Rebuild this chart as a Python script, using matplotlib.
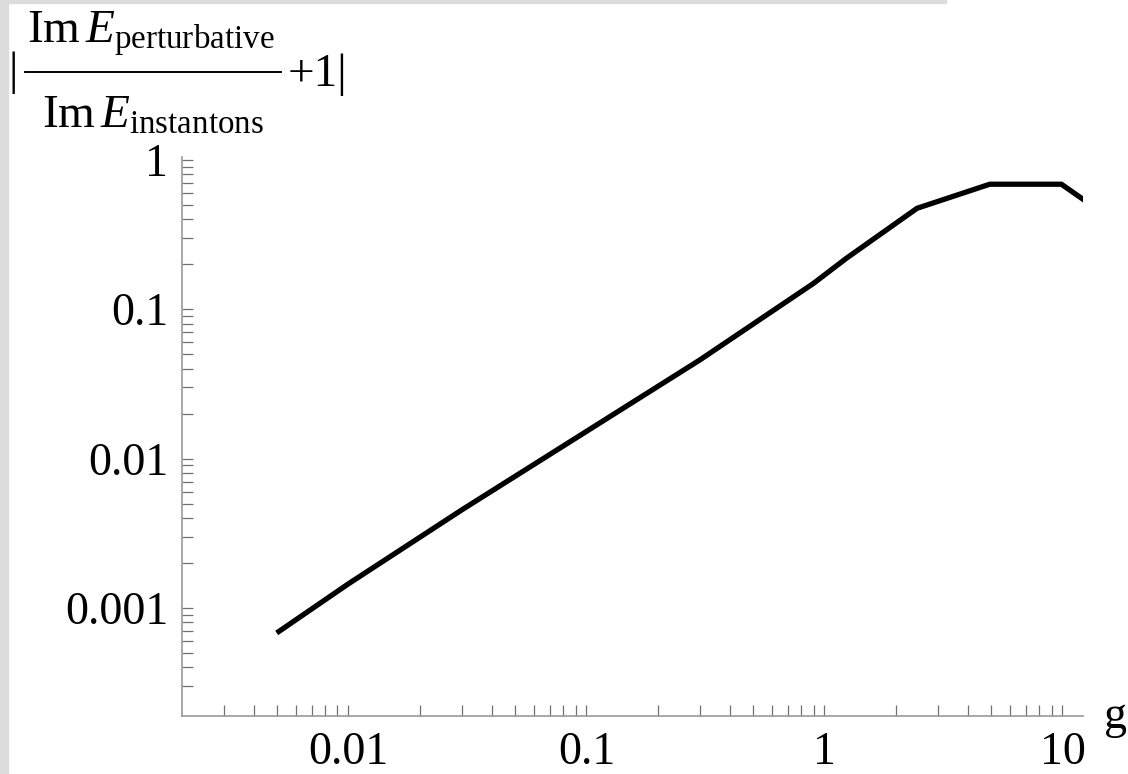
import numpy as np
import matplotlib
matplotlib.use("Agg")
import matplotlib.pyplot as plt
from matplotlib.patches import Rectangle
from matplotlib.lines import Line2D
from matplotlib.ticker import FixedLocator, NullFormatter

plt.rcParams['font.family'] = ['Liberation Serif', 'DejaVu Serif']
plt.rcParams['mathtext.fontset'] = 'custom'
plt.rcParams['mathtext.rm'] = 'Liberation Serif'
plt.rcParams['mathtext.it'] = 'Liberation Serif:italic'

# data
g = [0.005, 0.01, 0.03, 0.1, 0.3, 0.9, 1.24, 2.45, 4.95, 9.9, 12.4]
ratio = [6.8e-4, 1.45e-3, 4.54e-3, 1.52e-2, 4.58e-2, 0.149, 0.22, 0.474, 0.687, 0.687, 0.535]

xmajor = [0.01, 0.1, 1, 10]
xlabels = ['0.01', '0.1', '1', '10']
ymajor = [0.001, 0.01, 0.1, 1]
ylabels = ['0.001', '0.01', '0.1', '1']

W, H = 1128, 774
fig = plt.figure(figsize=(W / 100, H / 100), dpi=100)
ax = fig.add_axes([182 / W, 1 - 716 / H, (1083 - 182) / W, (716 - 156.7) / H])

ax.plot(g, ratio, color='black', lw=3.8, solid_capstyle='butt', solid_joinstyle='miter')

ax.set_xscale('log')
ax.set_yscale('log')
ax.set_xlim(0.002, 12.2)
ax.set_ylim(1.89e-4, 1.05)

# minor ticks 2..9 per decade, like the original
xminor = [m * 10.0 ** e for e in range(-3, 1) for m in range(2, 10)]
xminor = [v for v in xminor if 0.0025 < v < 12]
yminor = [m * 10.0 ** e for e in range(-4, 0) for m in range(2, 10)]
yminor = [v for v in yminor if 2.5e-4 < v < 1]

ax.xaxis.set_major_locator(FixedLocator(xmajor))
ax.xaxis.set_minor_locator(FixedLocator(xminor))
ax.yaxis.set_major_locator(FixedLocator(ymajor))
ax.yaxis.set_minor_locator(FixedLocator(yminor))
ax.set_xticklabels(xlabels)
ax.set_yticklabels(ylabels)
ax.xaxis.set_minor_formatter(NullFormatter())
ax.yaxis.set_minor_formatter(NullFormatter())

for s in ['top', 'right']:
    ax.spines[s].set_visible(False)
for s in ['left', 'bottom']:
    ax.spines[s].set_color('#999999')
    ax.spines[s].set_linewidth(1.2)

ax.tick_params(which='both', direction='in', color='#707070', width=0.9, length=8)
ax.tick_params(axis='x', which='major', labelsize=33, pad=11)
ax.tick_params(axis='y', which='major', labelsize=33, pad=10)


def px(x, y):
    return x / W, 1 - y / H


fig.text(*px(1104, 728), 'g', fontsize=33, va='baseline', ha='left')

# y label: |Im E_pert / Im E_inst + 1|
fig.text(*px(8, 84), '|', fontsize=34, va='baseline', ha='left')
fig.text(*px(27, 43), r'$\mathrm{Im}\,E_{\mathrm{perturbative}}$', fontsize=34,
         va='baseline', ha='left')
fig.text(*px(42, 128), r'$\mathrm{Im}\,E_{\mathrm{instantons}}$', fontsize=34,
         va='baseline', ha='left')
fig.add_artist(Line2D([25 / W, 281 / W], [1 - 72 / H] * 2, color='black', lw=1.4))
fig.text(*px(288, 86), '+1|', fontsize=34, va='baseline', ha='left')

# light gray frame strips at the left and top edge
fig.patches.append(Rectangle((0, 0), 8 / W, 1, transform=fig.transFigure,
                             color='#dcdcdc', zorder=-1))
fig.patches.append(Rectangle((0, 1 - 3 / H), 946 / W, 3 / H, transform=fig.transFigure,
                             color='#dcdcdc', zorder=-1))

fig.savefig('out.png', dpi=100)
